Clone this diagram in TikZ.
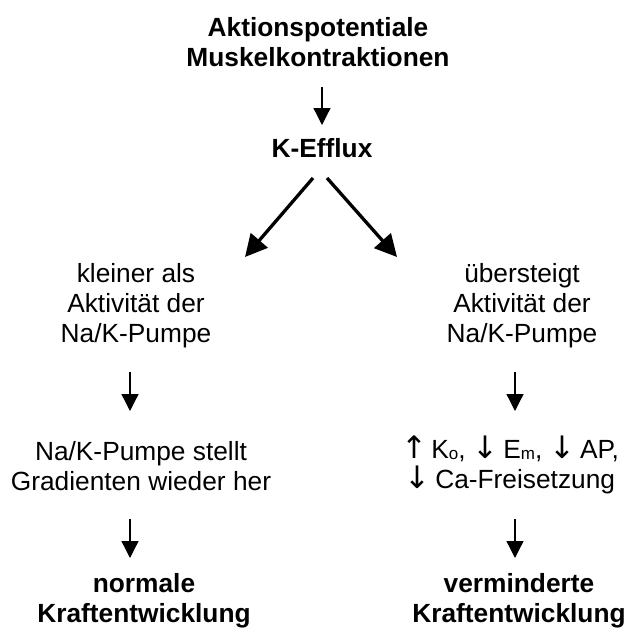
\documentclass[tikz,border=0pt]{standalone}
\usepackage{fontspec}
\setmainfont{Liberation Sans}
\newfontfamily\arrfont{DejaVu Sans}
\usetikzlibrary{arrows.meta}
\newcommand\lowsub[1]{\raisebox{-0.1ex}{\fontsize{17}{17}\selectfont #1}}
\newcommand\upa{{\arrfont\fontsize{31}{30}\selectfont ↑}}
\newcommand\dna{{\arrfont\fontsize{31}{30}\selectfont ↓}}
\tikzset{
  txt/.style={inner sep=0pt, align=center, anchor=base, font=\fontsize{26.3}{30}\selectfont},
  btxt/.style={txt, font=\fontsize{26.3}{30}\selectfont\bfseries},
  varr/.style={line width=1.3pt, -{Triangle[length=17pt,width=17pt]}},
  darr/.style={line width=3.3pt, -{Triangle[length=22pt,width=22pt]}}
}
\begin{document}
\begin{tikzpicture}[x=1pt,y=1pt]
\useasboundingbox (0,0) rectangle (630,-629);
\node[btxt] (t) at (318,-66) {Aktionspotentiale\\Muskelkontraktionen};
\node[btxt] (k) at (322,-157) {K-Efflux};
\node[txt] (l1) at (136,-342) {kleiner als\\Aktivität der\\Na/K-Pumpe};
\node[txt] (r1) at (522,-342) {übersteigt\\Aktivität der\\Na/K-Pumpe};
\node[txt] (l2) at (141,-490) {Na/K-Pumpe stellt\\Gradienten wieder her};
\node[txt] (r2) at (510,-488) {\upa\,K\lowsub{o}, \dna\,E\lowsub{m}, \dna\,AP,\\\dna\,Ca-Freisetzung};
\node[btxt] (l3) at (144,-622) {normale\\Kraftentwicklung};
\node[btxt] (r3) at (519,-622) {verminderte\\Kraftentwicklung};
\draw[varr] ([xshift=4pt,yshift=-21pt]t.base) -- ([yshift=32pt]k.base);
\draw[darr] ([xshift=-9pt,yshift=-21pt]k.base) -- ([xshift=109pt,yshift=85pt]l1.base);
\draw[darr] ([xshift=5pt,yshift=-21pt]k.base) -- ([xshift=-125pt,yshift=85pt]r1.base);
\draw[varr] ([xshift=-6pt,yshift=-30pt]l1.base) -- ([xshift=-11pt,yshift=79pt]l2.base);
\draw[varr] ([xshift=-7pt,yshift=-30pt]r1.base) -- ([xshift=5pt,yshift=77pt]r2.base);
\draw[varr] ([xshift=-11pt,yshift=-29pt]l2.base) -- ([xshift=-14pt,yshift=64pt]l3.base);
\draw[varr] ([xshift=5pt,yshift=-31pt]r2.base) -- ([xshift=-4pt,yshift=64pt]r3.base);
\end{tikzpicture}
\end{document}
